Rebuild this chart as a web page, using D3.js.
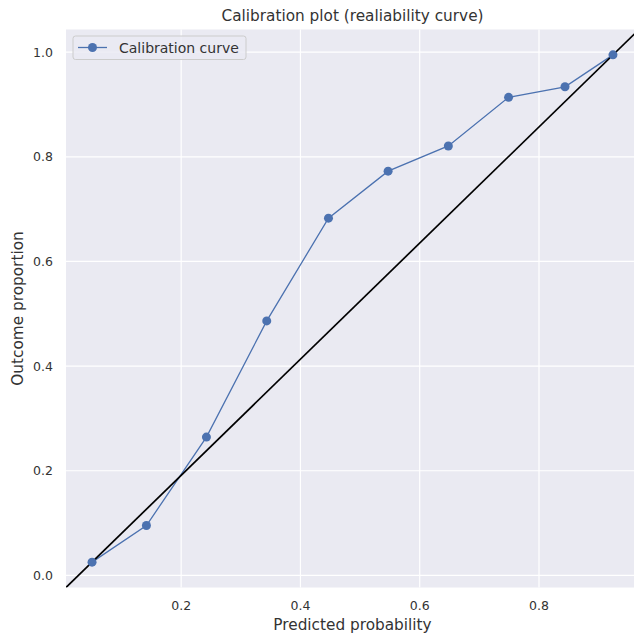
<!DOCTYPE html>
<html>
<head>
<meta charset="utf-8">
<script src="https://cdn.jsdelivr.net/npm/d3@7"></script>
<style>
  body { margin: 0; background: #fff; }
  text { font-family: "DejaVu Sans", sans-serif; fill: #333; }
</style>
</head>
<body>
<div id="chart"></div>
<script>
// calibration curve values
const predicted = [0.0506, 0.1418, 0.2424, 0.3435, 0.447, 0.547, 0.648, 0.749, 0.8436, 0.924];
const observed  = [0.0254, 0.0954, 0.2643, 0.4864, 0.6828, 0.7725, 0.8207, 0.9136, 0.9338, 0.9948];
const xTicks = [0.2, 0.4, 0.6, 0.8];
const yTicks = [0.0, 0.2, 0.4, 0.6, 0.8, 1.0];

const width = 634, height = 633,
      plotL = 66, plotR = 639, plotT = 29.5, plotB = 587.5,
      blue = "#4C72B0";

function padded(arr) {
    const e = d3.extent(arr), m = (e[1] - e[0]) * 0.05;
    return [e[0] - m, e[1] + m];
}

const x = d3.scaleLinear().domain(padded(predicted)).range([plotL, plotR]);
const y = d3.scaleLinear().domain(padded(observed)).range([plotB, plotT]);

const svg = d3.select("#chart").append("svg")
    .attr("width", width).attr("height", height);

svg.append("defs").append("clipPath").attr("id", "clip")
    .append("rect").attr("x", plotL).attr("y", plotT)
    .attr("width", plotR - plotL).attr("height", plotB - plotT);

svg.append("rect")
    .attr("x", plotL).attr("y", plotT)
    .attr("width", plotR - plotL).attr("height", plotB - plotT)
    .attr("fill", "#EAEAF2");

// grid
svg.append("g").selectAll("line").data(xTicks).enter().append("line")
    .attr("x1", d => x(d)).attr("x2", d => x(d))
    .attr("y1", plotT).attr("y2", plotB)
    .attr("stroke", "#fff").attr("stroke-width", 1.2);
svg.append("g").selectAll("line").data(yTicks).enter().append("line")
    .attr("x1", plotL).attr("x2", plotR)
    .attr("y1", d => y(d)).attr("y2", d => y(d))
    .attr("stroke", "#fff").attr("stroke-width", 1.2);

// tick labels
svg.append("g").selectAll("text").data(xTicks).enter().append("text")
    .attr("x", d => x(d)).attr("y", plotB + 22.5)
    .attr("text-anchor", "middle").style("font-size", "12.5px")
    .text(d => d.toFixed(1));
svg.append("g").selectAll("text").data(yTicks).enter().append("text")
    .attr("x", plotL - 13).attr("y", d => y(d) + 4.5)
    .attr("text-anchor", "end").style("font-size", "12.5px")
    .text(d => d.toFixed(1));

const plot = svg.append("g").attr("clip-path", "url(#clip)");

// calibration curve
const pts = predicted.map((p, i) => [p, observed[i]]);
plot.append("path").datum(pts)
    .attr("d", d3.line().x(d => x(d[0])).y(d => y(d[1])))
    .attr("fill", "none").attr("stroke", blue).attr("stroke-width", 1.3);

// perfect calibration line, drawn across the axes diagonal
plot.append("line")
    .attr("x1", plotL).attr("y1", plotB)
    .attr("x2", plotR).attr("y2", plotT)
    .attr("stroke", "#000").attr("stroke-width", 1.7);

plot.selectAll("circle").data(pts).enter().append("circle")
    .attr("cx", d => x(d[0])).attr("cy", d => y(d[1]))
    .attr("r", 4.5).attr("fill", blue);

// legend
const legend = svg.append("g").attr("transform", "translate(73,36)");
legend.append("rect")
    .attr("width", 173).attr("height", 23.5).attr("rx", 2.5)
    .attr("fill", "#EAEAF2").attr("fill-opacity", 0.8)
    .attr("stroke", "#CCCCCC").attr("stroke-width", 1);
legend.append("line")
    .attr("x1", 5).attr("x2", 34).attr("y1", 11.5).attr("y2", 11.5)
    .attr("stroke", blue).attr("stroke-width", 1.3);
legend.append("circle").attr("cx", 19.5).attr("cy", 11.5).attr("r", 4.5).attr("fill", blue);
legend.append("text").attr("x", 46).attr("y", 16.5)
    .style("font-size", "14px").text("Calibration curve");

// titles
const cx = (plotL + plotR) / 2;
svg.append("text").attr("x", cx).attr("y", 21)
    .attr("text-anchor", "middle").style("font-size", "15.3px")
    .text("Calibration plot (realiability curve)");
svg.append("text").attr("x", cx).attr("y", 629.5)
    .attr("text-anchor", "middle").style("font-size", "15.3px")
    .text("Predicted probability");
svg.append("text")
    .attr("transform", "translate(23," + ((plotT + plotB) / 2) + ") rotate(-90)")
    .attr("text-anchor", "middle").style("font-size", "15.3px")
    .text("Outcome proportion");
</script>
</body>
</html>
